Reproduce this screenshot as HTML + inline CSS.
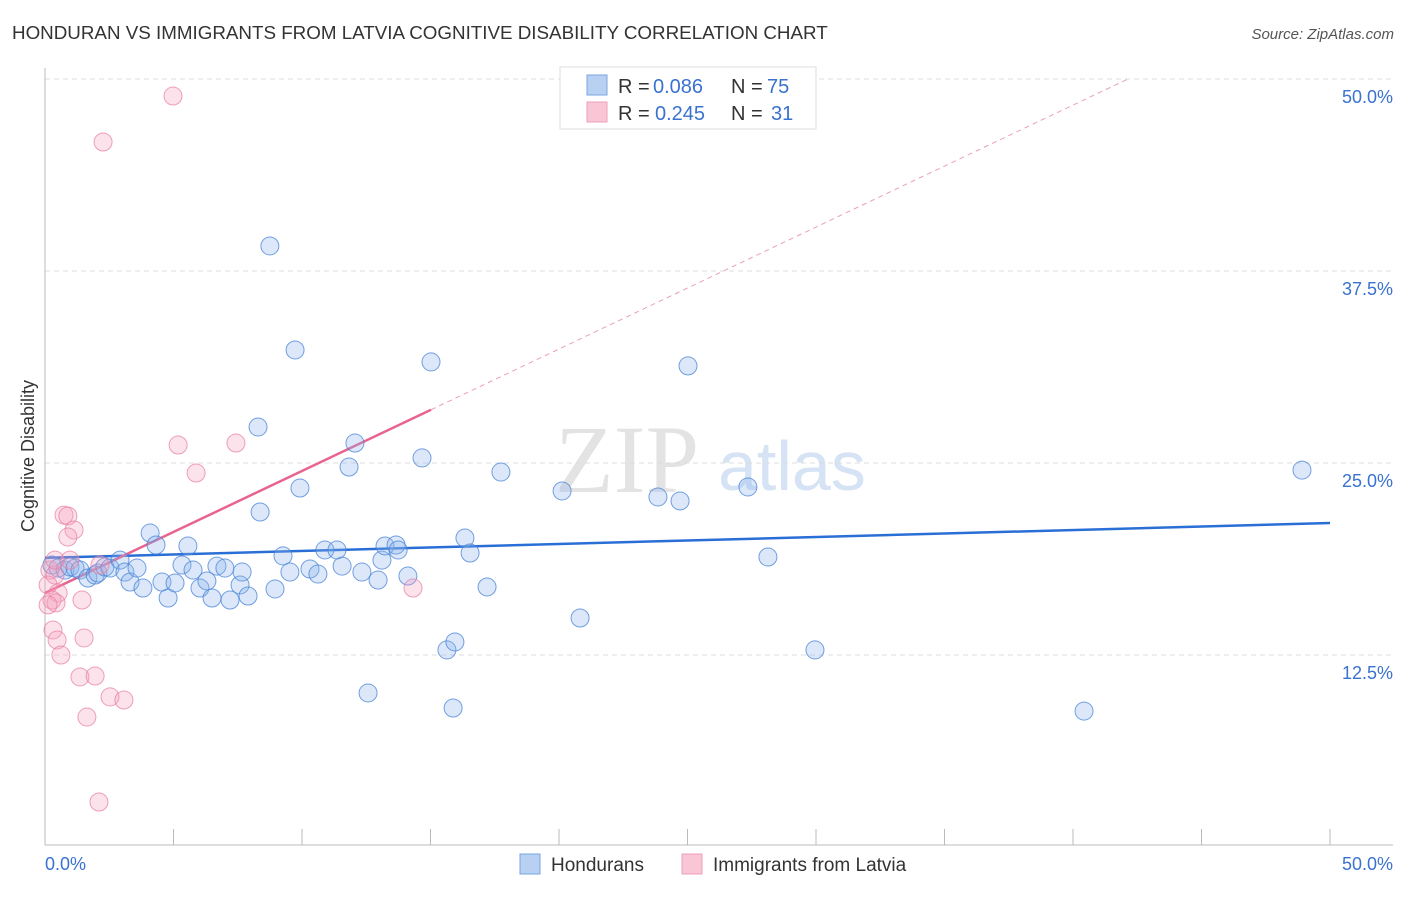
<!DOCTYPE html>
<html><head><meta charset="utf-8"><style>
body{margin:0;background:#fff;font-family:"Liberation Sans",sans-serif}
</style></head><body>
<svg width="1406" height="892" xmlns="http://www.w3.org/2000/svg" font-family="Liberation Sans, sans-serif">
<text x="12" y="39" font-size="18.8" fill="#333">HONDURAN VS IMMIGRANTS FROM LATVIA COGNITIVE DISABILITY CORRELATION CHART</text>
<text x="1394" y="39" font-size="15" fill="#555" text-anchor="end" font-style="italic">Source: ZipAtlas.com</text>
<text x="555" y="492" font-size="96" fill="#e3e3e3" font-family="Liberation Serif, serif">ZIP</text>
<text x="718" y="490" font-size="70" fill="#d5e3f5">atlas</text>
<g id="grid"></g>
<g id="axes"></g>
<g id="trend"></g>
<g id="pts"></g>
<text transform="translate(34,456) rotate(-90)" font-size="18" fill="#333" text-anchor="middle">Cognitive Disability</text>
<g font-size="20">
<rect x="560" y="67" width="256" height="62" fill="#fff" stroke="#ddd"/>
<rect x="587" y="75" width="20" height="20" fill="#b8d0f2" stroke="#7aa6e2"/>
<rect x="587" y="102" width="20" height="20" fill="#f9c6d5" stroke="#ee9fb8"/>
<text x="618" y="93" fill="#333">R =</text><text x="653" y="93" fill="#3a72d0">0.086</text>
<text x="731" y="93" fill="#333">N =</text><text x="767" y="93" fill="#3a72d0">75</text>
<text x="618" y="120" fill="#333">R =</text><text x="655" y="120" fill="#3a72d0">0.245</text>
<text x="731" y="120" fill="#333">N =</text><text x="771" y="120" fill="#3a72d0">31</text>
</g>
<g>
<rect x="520" y="854" width="20" height="20" fill="#b8d0f2" stroke="#7aa6e2"/>
<text x="551" y="871" font-size="19" fill="#333">Hondurans</text>
<rect x="682" y="854" width="20" height="20" fill="#f9c6d5" stroke="#ee9fb8"/>
<text x="713" y="871" font-size="19" fill="#333">Immigrants from Latvia</text>
</g>
</svg>
<script>
const blueX=[0.27,0.51,0.78,0.97,1.17,1.36,1.67,1.95,2.06,2.33,2.53,2.92,3.11,3.31,3.58,3.81,4.09,4.32,4.55,4.79,5.06,5.33,5.56,5.76,6.03,6.30,6.50,6.69,7.00,7.20,7.59,7.67,7.90,8.29,8.37,8.75,8.95,9.26,9.53,9.73,9.92,10.31,10.62,10.89,11.36,11.56,11.83,12.06,12.33,12.57,12.96,13.11,13.23,13.66,13.74,14.12,14.67,15.02,15.64,15.88,15.95,16.34,16.54,17.20,17.74,20.12,20.82,23.85,24.71,25.02,27.35,28.13,29.96,40.43,48.91];
const blueY=[18.36,18.16,18.03,18.23,18.16,18.03,17.51,17.71,17.84,18.23,18.16,18.68,17.90,17.25,18.16,16.86,20.44,19.66,17.25,16.21,17.19,18.36,19.60,18.03,16.86,17.32,16.21,18.29,18.16,16.08,17.06,17.90,16.34,27.34,21.81,39.13,16.80,18.95,17.90,32.36,23.37,18.10,17.77,19.34,19.34,18.29,24.74,26.30,17.90,10.03,17.38,18.68,19.60,19.66,19.34,17.64,25.33,31.58,12.83,9.05,13.35,20.12,19.14,16.93,24.41,23.18,14.91,22.79,22.53,31.32,23.44,18.88,12.83,8.85,24.54];
const pinkX=[4.98,2.26,5.18,7.43,5.88,0.74,0.89,1.13,0.89,0.97,0.19,0.39,0.12,0.51,0.27,0.43,1.44,0.31,0.47,1.52,0.62,1.36,1.95,2.53,3.07,1.63,2.10,14.32,0.39,2.14,0.12];
const pinkY=[48.89,45.90,26.17,26.30,24.35,21.61,21.55,20.64,20.18,18.68,18.03,17.71,17.06,16.54,16.08,15.89,16.08,14.13,13.48,13.61,12.50,11.07,11.13,9.77,9.57,8.46,2.93,16.86,18.68,18.36,15.76];
const yTicks=[12.5,25,37.5,50];
const yTickLabels=["12.5%","25.0%","37.5%","50.0%"];
const blueTrend=[18.82,21.09];
const pinkTrend=[16.54,0.794];
const NS="http://www.w3.org/2000/svg";
const X=v=>45+v/50*1285, Y=v=>847-v/50*768;
function mk(p,t,a){const e=document.createElementNS(NS,t);for(const k in a)e.setAttribute(k,a[k]);document.getElementById(p).appendChild(e);return e;}
yTicks.forEach((t,i)=>{
 const l=mk('grid','line',{x1:45,x2:1393,y1:Y(t),y2:Y(t),stroke:'#ddd','stroke-dasharray':'5,4'});
 
 
 const tx=mk('grid','text',{x:1393,y:Y(t)+24,'font-size':18,fill:'#3a72d0','text-anchor':'end'});
 tx.textContent=yTickLabels[i];
 
 
});
let a=mk('axes','line',{x1:45,x2:45,y1:68,y2:845,stroke:'#bbb'});


a=mk('axes','line',{x1:45,x2:1393,y1:845,y2:845,stroke:'#bbb'});


for(let i=0;i<=10;i++){const t=mk('axes','line',{x1:X(i*5),x2:X(i*5),y1:829,y2:845,stroke:'#bbb'});
 
 }
[["0.0%",45,'start'],["50.0%",1393,'end']].forEach(d=>{const t=mk('axes','text',{x:d[1],y:870,'font-size':18,fill:'#3a72d0','text-anchor':d[2]});t.textContent=d[0];
 
 });
function dot(x,y,f,s){const c=mk('pts','circle',{cx:X(x),cy:Y(y),r:9,fill:f,stroke:s,'stroke-width':1});return c;}
blueX.forEach((x,i)=>{const c=dot(x,blueY[i],'rgba(140,180,235,0.3)','rgba(70,130,215,0.75)');
 
 });
pinkX.forEach((x,i)=>{const c=dot(x,pinkY[i],'rgba(245,160,190,0.3)','rgba(232,130,165,0.75)');
 
 });
let t=mk('trend','line',{x1:X(0),y1:Y(blueTrend[0]),x2:X(50),y2:Y(blueTrend[1]),stroke:'#2a6fd6','stroke-width':2.5});


const pe=15.02, p50=(50-pinkTrend[0])/pinkTrend[1];
t=mk('trend','line',{x1:X(0),y1:Y(pinkTrend[0]),x2:X(pe),y2:Y(pinkTrend[0]+pinkTrend[1]*pe),stroke:'#e8648f','stroke-width':2.5});


t=mk('trend','line',{x1:X(pe),y1:Y(pinkTrend[0]+pinkTrend[1]*pe),x2:X(p50),y2:Y(50),stroke:'#eaa0b8','stroke-width':1,'stroke-dasharray':'5,4'});


</script>
</body></html>
